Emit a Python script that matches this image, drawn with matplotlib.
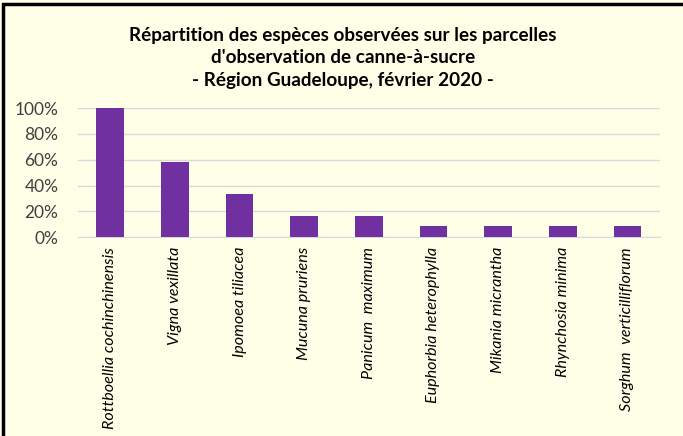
import matplotlib.pyplot as plt
from matplotlib.patches import Rectangle
from matplotlib.ticker import PercentFormatter

species = [
    "Rottboellia cochinchinensis",
    "Vigna vexillata",
    "Ipomoea tiliacea",
    "Mucuna pruriens",
    "Panicum  maximum",
    "Euphorbia heterophylla",
    "Mikania micrantha",
    "Rhynchosia minima",
    "Sorghum  verticilliflorum",
]
shares = [1.0, 0.583, 0.333, 0.167, 0.167, 0.083, 0.083, 0.083, 0.083]

bg = "#FFFFE8"
plt.rcParams["font.family"] = ["Lato", "DejaVu Sans"]

fig = plt.figure(figsize=(6.83, 4.36), dpi=100, facecolor=bg)
ax = fig.add_axes([0.114, 0.456, 0.852, 0.296], facecolor=bg)

x = range(len(species))
ax.bar(x, shares, width=0.43, color="#7030A0", zorder=3)

ax.set_ylim(0, 1.0)
ax.set_xlim(-0.5, len(species) - 0.5)
ax.set_yticks([0, 0.2, 0.4, 0.6, 0.8, 1.0])
ax.yaxis.set_major_formatter(PercentFormatter(1.0, decimals=0))
ax.grid(axis="y", color="#D9D9D9", linewidth=1, zorder=0)
ax.set_axisbelow(True)
for side in ["top", "right", "left"]:
    ax.spines[side].set_visible(False)
ax.spines["bottom"].set_color("#D9D9D9")
ax.spines["bottom"].set_zorder(1)
ax.tick_params(axis="both", length=0, colors="#404040", labelsize=12.5)
ax.tick_params(axis="y", pad=14)
ax.tick_params(axis="x", pad=7)
ax.set_xticks(list(x))
ax.set_xticklabels(species, rotation=90, style="italic", fontsize=11.6,
                   color="#000000", va="top", ha="center")

title_lines = [
    "Répartition des espèces observées sur les parcelles",
    "d'observation de canne-à-sucre",
    "- Région Guadeloupe, février 2020 -",
]
for i, line in enumerate(title_lines):
    fig.text(0.502, 0.918 - i * 0.051, line,
             ha="center", va="center", fontsize=13.6, fontweight="bold")

# outer frame (cropped on the right and bottom in the original)
fig.patches.append(Rectangle((0.004, -0.1), 1.2, 1.09, transform=fig.transFigure,
                             fill=False, edgecolor="black", linewidth=2.5))

fig.savefig("out.png", dpi=100, facecolor=bg)
